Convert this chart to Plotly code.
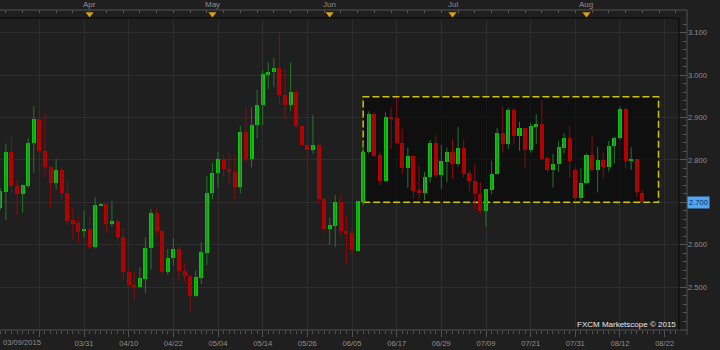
import pandas as pd
import plotly.graph_objects as go

# ---------------- data ----------------
dates = [d.strftime("%Y-%m-%d") for d in pd.bdate_range("2015-03-10", "2015-08-18")]

opens = [2.687, 2.725, 2.819, 2.739, 2.719, 2.738, 2.841, 2.896, 2.821, 2.784,
         2.745, 2.776, 2.723, 2.658, 2.652, 2.632, 2.638, 2.595, 2.693, 2.696,
         2.650, 2.656, 2.617, 2.536, 2.505, 2.501, 2.520, 2.593, 2.674, 2.633,
         2.536, 2.568, 2.591, 2.539, 2.525, 2.478, 2.522, 2.581, 2.723, 2.770,
         2.802, 2.778, 2.772, 2.735, 2.865, 2.802, 2.882, 2.929, 3.000, 3.007,
         3.016, 2.954, 2.929, 2.961, 2.880, 2.835, 2.823, 2.835, 2.708, 2.637,
         2.645, 2.700, 2.633, 2.627, 2.586, 2.700, 2.819, 2.908, 2.811, 2.751,
         2.902, 2.899, 2.841, 2.780, 2.810, 2.728, 2.721, 2.760, 2.839, 2.764,
         2.796, 2.819, 2.790, 2.829, 2.768, 2.750, 2.719, 2.680, 2.729, 2.766,
         2.864, 2.837, 2.918, 2.856, 2.876, 2.823, 2.878, 2.885, 2.804, 2.776,
         2.790, 2.829, 2.851, 2.776, 2.711, 2.745, 2.811, 2.776, 2.800, 2.784,
         2.833, 2.851, 2.920, 2.798, 2.802, 2.723]
highs = [2.733, 2.839, 2.855, 2.753, 2.742, 2.851, 2.927, 2.922, 2.911, 2.786,
         2.802, 2.786, 2.749, 2.687, 2.666, 2.680, 2.664, 2.712, 2.698, 2.697,
         2.703, 2.661, 2.639, 2.542, 2.536, 2.547, 2.617, 2.683, 2.686, 2.635,
         2.590, 2.615, 2.595, 2.555, 2.527, 2.539, 2.606, 2.762, 2.793, 2.819,
         2.813, 2.815, 2.813, 2.880, 2.925, 2.924, 2.965, 3.012, 3.030, 3.041,
         3.098, 3.014, 3.030, 2.965, 2.881, 2.836, 2.907, 2.839, 2.713, 2.664,
         2.717, 2.717, 2.668, 2.637, 2.704, 2.843, 2.915, 2.912, 2.819, 2.912,
         2.923, 2.947, 2.874, 2.829, 2.811, 2.786, 2.772, 2.847, 2.859, 2.835,
         2.829, 2.849, 2.878, 2.849, 2.776, 2.792, 2.747, 2.732, 2.798, 2.876,
         2.926, 2.923, 2.922, 2.890, 2.877, 2.888, 2.908, 2.941, 2.808, 2.814,
         2.845, 2.863, 2.880, 2.783, 2.780, 2.815, 2.856, 2.830, 2.817, 2.845,
         2.855, 2.926, 2.923, 2.830, 2.803, 2.729]
lows = [2.682, 2.658, 2.721, 2.670, 2.675, 2.734, 2.770, 2.772, 2.758, 2.687,
        2.731, 2.707, 2.647, 2.611, 2.605, 2.617, 2.591, 2.591, 2.691, 2.628,
        2.643, 2.607, 2.517, 2.501, 2.471, 2.499, 2.485, 2.542, 2.619, 2.531,
        2.529, 2.550, 2.515, 2.513, 2.440, 2.477, 2.507, 2.552, 2.707, 2.734,
        2.762, 2.742, 2.708, 2.721, 2.792, 2.782, 2.851, 2.882, 2.967, 2.973,
        2.931, 2.896, 2.915, 2.876, 2.833, 2.782, 2.815, 2.698, 2.627, 2.599,
        2.595, 2.619, 2.556, 2.576, 2.585, 2.692, 2.815, 2.808, 2.739, 2.749,
        2.826, 2.837, 2.766, 2.734, 2.709, 2.708, 2.705, 2.747, 2.758, 2.731,
        2.747, 2.755, 2.784, 2.758, 2.727, 2.684, 2.672, 2.643, 2.719, 2.765,
        2.817, 2.826, 2.837, 2.822, 2.780, 2.817, 2.837, 2.801, 2.771, 2.735,
        2.772, 2.815, 2.758, 2.702, 2.702, 2.742, 2.774, 2.723, 2.756, 2.772,
        2.792, 2.847, 2.780, 2.776, 2.713, 2.700]
closes = [2.727, 2.819, 2.739, 2.719, 2.741, 2.841, 2.896, 2.821, 2.784, 2.745,
          2.776, 2.723, 2.657, 2.650, 2.631, 2.638, 2.595, 2.694, 2.696, 2.650,
          2.657, 2.619, 2.536, 2.505, 2.502, 2.521, 2.593, 2.674, 2.632, 2.536,
          2.568, 2.591, 2.539, 2.525, 2.478, 2.523, 2.582, 2.723, 2.770, 2.802,
          2.778, 2.772, 2.735, 2.865, 2.802, 2.882, 2.929, 3.002, 3.008, 3.016,
          2.953, 2.929, 2.961, 2.880, 2.834, 2.823, 2.835, 2.708, 2.637, 2.646,
          2.700, 2.633, 2.625, 2.587, 2.703, 2.819, 2.908, 2.810, 2.751, 2.902,
          2.898, 2.841, 2.780, 2.810, 2.727, 2.721, 2.760, 2.839, 2.764, 2.797,
          2.819, 2.790, 2.829, 2.767, 2.750, 2.719, 2.680, 2.731, 2.767, 2.864,
          2.837, 2.918, 2.856, 2.876, 2.823, 2.880, 2.885, 2.802, 2.776, 2.790,
          2.830, 2.851, 2.797, 2.711, 2.745, 2.811, 2.776, 2.800, 2.784, 2.833,
          2.851, 2.920, 2.798, 2.802, 2.724, 2.701]

tick_dates = ["2015-03-19", "2015-03-31", "2015-04-10", "2015-04-22", "2015-05-04",
              "2015-05-14", "2015-05-26", "2015-06-05", "2015-06-17", "2015-06-29",
              "2015-07-09", "2015-07-21", "2015-07-31", "2015-08-12", "2015-08-24"]
tick_labels = ["", "03/31", "04/10", "04/22", "05/04", "05/14", "05/26", "06/05",
               "06/17", "06/29", "07/09", "07/21", "07/31", "08/12", "08/22"]

month_dates = ["2015-04-01", "2015-05-01", "2015-06-01", "2015-07-01", "2015-08-04"]
month_labels = ["Apr", "May", "Jun", "Jul", "Aug"]

price_ticks = [2.5, 2.6, 2.7, 2.8, 2.9, 3.0, 3.1]
range_box = {"start": "2015-06-09", "end": "2015-08-21", "low": 2.700, "high": 2.949}
last_price = 2.700

# ---------------- styling ----------------
W, H = 720, 350
BG = "#1f1f1f"
GRID = "#2d2d2d"
AXIS = "#535353"
TXT = "#8e8e8e"
UP_BODY, UP_WICK = "#0cc40c", "#22782a"
DN_BODY, DN_WICK = "#b80000", "#8a0c0c"
FONT = "Liberation Sans, Arial, sans-serif"
DAY_MS = 86400000

def px_x(p):
    return p / W

def px_y(p):
    return 1 - p / H

plot_left, plot_right = 0, 679
plot_top, plot_bottom = 18, 330
axis_x = 687
band_top = 10

xs = [d + " 12:00" for d in dates]

def wick_xy(idx):
    wx, wy = [], []
    for i in idx:
        wx += [xs[i], xs[i], None]
        wy += [lows[i], highs[i], None]
    return wx, wy

up = [i for i in range(len(dates)) if closes[i] >= opens[i]]
dn = [i for i in range(len(dates)) if closes[i] < opens[i]]

fig = go.Figure()
for idx, wc in ((up, UP_WICK), (dn, DN_WICK)):
    wx, wy = wick_xy(idx)
    fig.add_trace(go.Scatter(x=wx, y=wy, mode="lines", line=dict(color=wc, width=1),
                             hoverinfo="skip", showlegend=False))
for idx, bc in ((up, UP_BODY), (dn, DN_BODY)):
    fig.add_trace(go.Bar(
        x=[xs[i] for i in idx],
        y=[abs(closes[i] - opens[i]) for i in idx],
        base=[min(opens[i], closes[i]) for i in idx],
        width=0.72 * DAY_MS, marker=dict(color=bc, line=dict(width=0)),
        hoverinfo="skip", showlegend=False))

# top band: month markers and labels
mx = [d + " 12:00" for d in month_dates]
fig.add_trace(go.Scatter(x=mx, y=[0.5] * len(mx), mode="markers", xaxis="x2", yaxis="y2",
                         marker=dict(symbol="triangle-down", size=7, color="#d6a21e",
                                     line=dict(width=0)),
                         hoverinfo="skip", showlegend=False, cliponaxis=False))
for d, lab in zip(mx, month_labels):
    fig.add_annotation(xref="x2", yref="paper", x=d, y=px_y(5), xanchor="center",
                       yanchor="middle", text=lab, showarrow=False,
                       font=dict(family=FONT, size=8, color=TXT))

all_days = [d.strftime("%Y-%m-%d") + " 12:00" for d in pd.bdate_range("2015-03-09", "2015-08-26")]
x_range = ["2015-03-10 10:47", "2015-08-27 01:41"]
rb = [dict(bounds=["sat", "mon"])]

fig.update_layout(
    width=W, height=H,
    margin=dict(l=0, r=0, t=0, b=0, pad=0),
    paper_bgcolor=BG, plot_bgcolor=BG,
    barmode="overlay", bargap=0,
    showlegend=False,
    font=dict(family=FONT, size=8, color=TXT),
    xaxis=dict(
        type="date", rangebreaks=rb, range=x_range, domain=[px_x(plot_left), px_x(plot_right)],
        anchor="y", showline=False, showgrid=True, gridcolor=GRID, gridwidth=1, zeroline=False,
        tickmode="array", tickvals=[d + " 12:00" for d in tick_dates], ticktext=tick_labels,
        ticks="outside", ticklen=6, tickcolor=AXIS, tickwidth=1,
        tickfont=dict(family=FONT, size=7.6, color=TXT),
        minor=dict(ticks="outside", ticklen=3, tickcolor=AXIS, tick0="2015-03-09 12:00",
                   dtick=DAY_MS, showgrid=False),
        automargin=False, fixedrange=True,
    ),
    yaxis=dict(
        range=[2.3988, 3.1347], domain=[px_y(plot_bottom), px_y(plot_top)],
        anchor="free", position=px_x(axis_x), side="right",
        showline=False, showgrid=True, gridcolor=GRID, zeroline=False,
        tickmode="array", tickvals=price_ticks, tickformat=".3f",
        ticks="inside", ticklen=8, tickcolor=AXIS,
        tickfont=dict(family=FONT, size=7.6, color=TXT),
        minor=dict(ticks="inside", ticklen=4, tickcolor=AXIS, dtick=0.02, tick0=2.5, showgrid=False),
        automargin=False, fixedrange=True,
    ),
    xaxis2=dict(
        type="date", rangebreaks=rb, range=x_range, domain=[px_x(plot_left), px_x(plot_right)],
        anchor="y2", side="top", showline=False, showgrid=False, zeroline=False,
        tickmode="array", tickvals=all_days[2::3], showticklabels=False,
        ticks="inside", ticklen=3, tickcolor=AXIS, automargin=False, fixedrange=True,
    ),
    yaxis2=dict(domain=[px_y(plot_top), px_y(band_top)], range=[0, 1], visible=False,
                anchor="x2", fixedrange=True),
)

# consolidation box
fig.add_shape(type="rect", xref="x", yref="y",
              x0=range_box["start"] + " 12:00", x1=range_box["end"] + " 09:36",
              y0=range_box["low"], y1=range_box["high"],
              fillcolor="rgba(0,0,0,0.5)", layer="between",
              line=dict(color="#cfc400", width=1.5, dash="7px,3px"))

# frame lines
frame = dict(color=AXIS, width=1)
fig.add_shape(type="line", xref="paper", yref="paper", x0=0, x1=px_x(axis_x),
              y0=px_y(band_top), y1=px_y(band_top), line=frame)
fig.add_shape(type="line", xref="paper", yref="paper", x0=px_x(axis_x), x1=px_x(axis_x),
              y0=px_y(band_top), y1=px_y(plot_bottom + 5), line=frame)
fig.add_shape(type="line", xref="paper", yref="paper", x0=0, x1=px_x(axis_x),
              y0=px_y(plot_bottom), y1=px_y(plot_bottom), line=frame)
inner = dict(color="#111111", width=1.5)
fig.add_shape(type="line", xref="paper", yref="paper", x0=px_x(plot_right), x1=px_x(plot_right),
              y0=px_y(plot_top), y1=px_y(plot_bottom), line=inner)
fig.add_shape(type="line", xref="paper", yref="paper", x0=0, x1=px_x(plot_right),
              y0=px_y(plot_top), y1=px_y(plot_top), line=inner)

# annotations
fig.add_annotation(xref="paper", yref="paper", x=px_x(1), y=px_y(342), xanchor="left",
                   yanchor="middle", text="03/09/2015", showarrow=False,
                   font=dict(family=FONT, size=7.6, color=TXT))
fig.add_annotation(xref="paper", yref="paper", x=px_x(678), y=px_y(324), xanchor="right",
                   yanchor="middle", text="FXCM Marketscope © 2015", showarrow=False,
                   font=dict(family=FONT, size=8, color="#e8e8e8"))
fig.add_annotation(xref="paper", yref="y", x=px_x(axis_x), y=last_price, xanchor="left",
                   yanchor="middle", text=f"{last_price:.3f}", showarrow=False,
                   bgcolor="#4ea6f2", borderpad=1,
                   font=dict(family=FONT, size=7.6, color="#0c2a4a"))

fig.write_html("out.html")
